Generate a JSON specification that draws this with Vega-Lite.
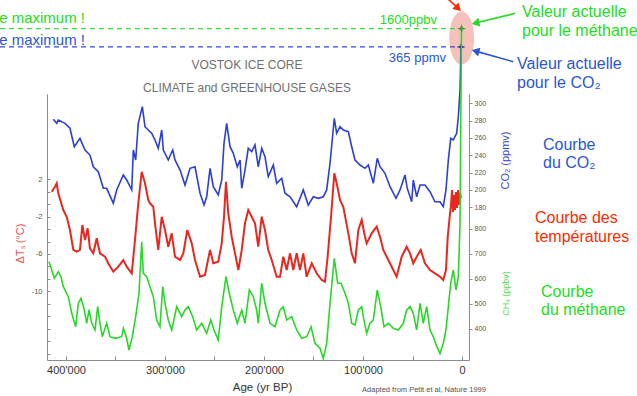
{
  "$schema": "https://vega.github.io/schema/vega-lite/v6.json",
  "width": 422,
  "height": 266,
  "autosize": {"type": "none"},
  "padding": {"left": 47, "top": 94, "right": 168, "bottom": 36},
  "background": "#ffffff",
  "config": {
    "font": "Liberation Sans",
    "view": {"stroke": null},
    "axis": {"grid": false, "domainColor": "#8c8c8c", "tickColor": "#8c8c8c", "labelColor": "#555555", "labelFont": "Liberation Sans", "titleFont": "Liberation Sans", "titleFontWeight": "normal", "labelOverlap": false, "labelFlush": false}
  },
  "datasets": {
    "temperature": [
      {"age": 414400, "temp": 0.67}, {"age": 411100, "temp": 1.21}, {"age": 409400, "temp": 1.57}, {"age": 407800, "temp": 0.5},
      {"age": 402700, "temp": -1.29}, {"age": 399300, "temp": -2.01}, {"age": 396000, "temp": -3.43}, {"age": 392600, "temp": -5.57},
      {"age": 389200, "temp": -5.76}, {"age": 385900, "temp": -5.57}, {"age": 383500, "temp": -2.9}, {"age": 380800, "temp": -4.51},
      {"age": 378100, "temp": -3.25}, {"age": 375800, "temp": -5.39}, {"age": 372400, "temp": -5.93}, {"age": 369000, "temp": -4.32},
      {"age": 365700, "temp": -5.93}, {"age": 360600, "temp": -6.29}, {"age": 357300, "temp": -7.0}, {"age": 352200, "temp": -7.9},
      {"age": 347200, "temp": -7.36}, {"age": 342100, "temp": -6.65}, {"age": 338700, "temp": -7.36}, {"age": 333600, "temp": -8.07},
      {"age": 330300, "temp": -4.5}, {"age": 327000, "temp": -0.57}, {"age": 323500, "temp": 2.81}, {"age": 320200, "temp": 1.57},
      {"age": 316900, "temp": -0.22}, {"age": 315200, "temp": -0.57}, {"age": 311800, "temp": -0.94}, {"age": 310100, "temp": -2.71},
      {"age": 306800, "temp": -5.57}, {"age": 303300, "temp": -2.01}, {"age": 300000, "temp": -3.43}, {"age": 296700, "temp": -5.22},
      {"age": 293200, "temp": -3.79}, {"age": 289900, "temp": -6.29}, {"age": 284800, "temp": -6.65}, {"age": 281500, "temp": -5.93},
      {"age": 277500, "temp": -3.43}, {"age": 273000, "temp": -4.86}, {"age": 269700, "temp": -6.65}, {"age": 264600, "temp": -8.44},
      {"age": 259600, "temp": -8.25}, {"age": 254500, "temp": -5.57}, {"age": 251200, "temp": -7.0}, {"age": 246200, "temp": -6.83},
      {"age": 242700, "temp": -4.86}, {"age": 240400, "temp": -2.01}, {"age": 238400, "temp": 1.74}, {"age": 236100, "temp": -1.64},
      {"age": 232600, "temp": -4.15}, {"age": 229300, "temp": -5.93}, {"age": 225900, "temp": -7.72}, {"age": 222500, "temp": -5.57},
      {"age": 219200, "temp": -2.71}, {"age": 215900, "temp": -1.29}, {"age": 212400, "temp": -2.01}, {"age": 209100, "temp": -2.71},
      {"age": 205800, "temp": -5.22}, {"age": 202300, "temp": -2.01}, {"age": 199000, "temp": -3.43}, {"age": 195700, "temp": -5.57},
      {"age": 192200, "temp": -6.65}, {"age": 187200, "temp": -8.44}, {"age": 183800, "temp": -8.44}, {"age": 180500, "temp": -6.29},
      {"age": 177100, "temp": -7.72}, {"age": 173700, "temp": -5.93}, {"age": 170400, "temp": -7.72}, {"age": 167000, "temp": -5.93},
      {"age": 163600, "temp": -7.72}, {"age": 160300, "temp": -5.93}, {"age": 156900, "temp": -8.44}, {"age": 151800, "temp": -7.0},
      {"age": 146800, "temp": -8.07}, {"age": 141700, "temp": -8.79}, {"age": 138400, "temp": -8.97}, {"age": 135700, "temp": -6.29},
      {"age": 132300, "temp": -2.01}, {"age": 129000, "temp": 2.64}, {"age": 126600, "temp": 1.57}, {"age": 123200, "temp": -0.22},
      {"age": 119900, "temp": -0.94}, {"age": 114800, "temp": -3.79}, {"age": 111400, "temp": -5.93}, {"age": 108100, "temp": -7.0},
      {"age": 104700, "temp": -3.43}, {"age": 101300, "temp": -2.36}, {"age": 98000, "temp": -4.15}, {"age": 96300, "temp": -4.86},
      {"age": 91200, "temp": -3.79}, {"age": 86200, "temp": -3.08}, {"age": 82800, "temp": -4.15}, {"age": 79500, "temp": -5.57},
      {"age": 74400, "temp": -6.65}, {"age": 69400, "temp": -7.72}, {"age": 66000, "temp": -8.44}, {"age": 60900, "temp": -6.29},
      {"age": 55900, "temp": -5.22}, {"age": 52500, "temp": -5.93}, {"age": 49200, "temp": -7.0}, {"age": 45800, "temp": -6.29},
      {"age": 41700, "temp": -5.57}, {"age": 37400, "temp": -7.0}, {"age": 32300, "temp": -7.72}, {"age": 27300, "temp": -8.07},
      {"age": 22200, "temp": -8.44}, {"age": 18900, "temp": -8.79}, {"age": 16200, "temp": -7.72}, {"age": 14400, "temp": -4.15},
      {"age": 12100, "temp": -1.64}, {"age": 11100, "temp": -0.75}, {"age": 10100, "temp": 0.85}, {"age": 9100, "temp": -1.5},
      {"age": 8100, "temp": 0.32}, {"age": 7100, "temp": -1.29}, {"age": 6100, "temp": 0.64}, {"age": 5100, "temp": -1.07},
      {"age": 4000, "temp": 0.85}, {"age": 3000, "temp": -0.75}, {"age": 2000, "temp": 0.53}, {"age": 1000, "temp": 0.0}
    ],
    "co2": [
      {"age": 412800, "co2": 281.5}, {"age": 409400, "co2": 276.9}, {"age": 407800, "co2": 280.7}, {"age": 401000, "co2": 276.9},
      {"age": 396000, "co2": 271.2}, {"age": 391600, "co2": 249.9}, {"age": 385900, "co2": 259.6}, {"age": 380800, "co2": 246.1},
      {"age": 375800, "co2": 240.3}, {"age": 372400, "co2": 226.8}, {"age": 367400, "co2": 221.1}, {"age": 362300, "co2": 201.9},
      {"age": 358900, "co2": 201.9}, {"age": 352200, "co2": 184.6}, {"age": 348800, "co2": 200.0}, {"age": 342100, "co2": 217.3},
      {"age": 338700, "co2": 211.5}, {"age": 333600, "co2": 200.0}, {"age": 332000, "co2": 246.1}, {"age": 329600, "co2": 234.6},
      {"age": 327000, "co2": 276.9}, {"age": 322900, "co2": 296.1}, {"age": 320200, "co2": 273.0}, {"age": 316900, "co2": 269.2},
      {"age": 313400, "co2": 265.4}, {"age": 310100, "co2": 257.7}, {"age": 306800, "co2": 248.1}, {"age": 303300, "co2": 269.2},
      {"age": 301700, "co2": 246.1}, {"age": 296700, "co2": 234.6}, {"age": 292200, "co2": 246.1}, {"age": 289900, "co2": 234.6},
      {"age": 284800, "co2": 223.0}, {"age": 279800, "co2": 205.7}, {"age": 274700, "co2": 225.0}, {"age": 269700, "co2": 226.8},
      {"age": 264600, "co2": 196.2}, {"age": 260600, "co2": 182.6}, {"age": 257900, "co2": 192.2}, {"age": 254500, "co2": 225.0},
      {"age": 251200, "co2": 203.8}, {"age": 246200, "co2": 194.2}, {"age": 242700, "co2": 211.5}, {"age": 240400, "co2": 253.8},
      {"age": 237700, "co2": 276.9}, {"age": 234300, "co2": 249.9}, {"age": 231000, "co2": 242.3}, {"age": 227000, "co2": 226.8},
      {"age": 224200, "co2": 234.6}, {"age": 222500, "co2": 201.9}, {"age": 219200, "co2": 223.0}, {"age": 215900, "co2": 248.1},
      {"age": 212400, "co2": 244.2}, {"age": 209100, "co2": 251.9}, {"age": 205800, "co2": 226.8}, {"age": 202300, "co2": 248.1},
      {"age": 199000, "co2": 238.4}, {"age": 195700, "co2": 215.3}, {"age": 190600, "co2": 228.8}, {"age": 187200, "co2": 207.7},
      {"age": 182100, "co2": 213.5}, {"age": 178800, "co2": 196.2}, {"age": 173700, "co2": 192.2}, {"age": 167000, "co2": 180.7},
      {"age": 160300, "co2": 200.0}, {"age": 155300, "co2": 182.6}, {"age": 150200, "co2": 192.2}, {"age": 145200, "co2": 190.4},
      {"age": 140100, "co2": 192.2}, {"age": 136700, "co2": 200.0}, {"age": 133300, "co2": 230.8}, {"age": 129000, "co2": 282.7},
      {"age": 126600, "co2": 265.4}, {"age": 123200, "co2": 273.0}, {"age": 119900, "co2": 269.2}, {"age": 114800, "co2": 267.2},
      {"age": 111400, "co2": 249.9}, {"age": 108100, "co2": 234.6}, {"age": 103000, "co2": 228.8}, {"age": 98000, "co2": 225.0},
      {"age": 94600, "co2": 228.8}, {"age": 89600, "co2": 207.7}, {"age": 85600, "co2": 236.5}, {"age": 82800, "co2": 226.8},
      {"age": 77800, "co2": 219.2}, {"age": 72700, "co2": 203.8}, {"age": 66700, "co2": 190.4}, {"age": 62600, "co2": 200.0},
      {"age": 57600, "co2": 217.3}, {"age": 55300, "co2": 201.9}, {"age": 50800, "co2": 186.4}, {"age": 49200, "co2": 211.5},
      {"age": 45800, "co2": 192.2}, {"age": 42400, "co2": 205.7}, {"age": 37400, "co2": 205.7}, {"age": 32300, "co2": 198.0},
      {"age": 27300, "co2": 186.4}, {"age": 22200, "co2": 186.4}, {"age": 18900, "co2": 180.7}, {"age": 16200, "co2": 200.0},
      {"age": 13800, "co2": 234.6}, {"age": 11400, "co2": 259.6}, {"age": 8800, "co2": 257.7}, {"age": 5400, "co2": 265.4},
      {"age": 3700, "co2": 284.5}, {"age": 2000, "co2": 315.3}, {"age": 1000, "co2": 365.0}
    ],
    "ch4": [
      {"age": 417200, "ch4": 667.6}, {"age": 414400, "ch4": 634.4}, {"age": 411800, "ch4": 601.2}, {"age": 407800, "ch4": 627.6},
      {"age": 405100, "ch4": 607.6}, {"age": 402700, "ch4": 567.6}, {"age": 397700, "ch4": 527.6}, {"age": 394200, "ch4": 461.2},
      {"age": 390200, "ch4": 407.6}, {"age": 387600, "ch4": 501.2}, {"age": 384800, "ch4": 521.2}, {"age": 381500, "ch4": 474.4},
      {"age": 379100, "ch4": 421.2}, {"age": 376800, "ch4": 474.4}, {"age": 374000, "ch4": 421.2}, {"age": 370700, "ch4": 394.4},
      {"age": 368000, "ch4": 487.6}, {"age": 365700, "ch4": 421.2}, {"age": 363300, "ch4": 367.6}, {"age": 358900, "ch4": 421.2},
      {"age": 355600, "ch4": 367.6}, {"age": 350500, "ch4": 361.2}, {"age": 343700, "ch4": 367.6}, {"age": 342100, "ch4": 401.2},
      {"age": 338700, "ch4": 361.2}, {"age": 336400, "ch4": 314.4}, {"age": 333000, "ch4": 367.6}, {"age": 329600, "ch4": 447.6},
      {"age": 326300, "ch4": 541.2}, {"age": 323500, "ch4": 747.6}, {"age": 321900, "ch4": 621.2}, {"age": 318500, "ch4": 607.6},
      {"age": 315200, "ch4": 567.6}, {"age": 311800, "ch4": 527.6}, {"age": 308400, "ch4": 434.4}, {"age": 305100, "ch4": 407.6},
      {"age": 302300, "ch4": 567.6}, {"age": 300000, "ch4": 501.2}, {"age": 296700, "ch4": 434.4}, {"age": 293200, "ch4": 394.4},
      {"age": 288200, "ch4": 487.6}, {"age": 283100, "ch4": 447.6}, {"age": 279800, "ch4": 474.4}, {"age": 276500, "ch4": 487.6},
      {"age": 272000, "ch4": 447.6}, {"age": 268000, "ch4": 394.4}, {"age": 262900, "ch4": 421.2}, {"age": 257900, "ch4": 381.2},
      {"age": 253800, "ch4": 434.4}, {"age": 250500, "ch4": 394.4}, {"age": 246200, "ch4": 354.4}, {"age": 242700, "ch4": 487.6},
      {"age": 238400, "ch4": 607.6}, {"age": 235100, "ch4": 541.2}, {"age": 231000, "ch4": 474.4}, {"age": 227000, "ch4": 421.2},
      {"age": 222500, "ch4": 474.4}, {"age": 219200, "ch4": 421.2}, {"age": 214800, "ch4": 554.4}, {"age": 210800, "ch4": 527.6},
      {"age": 207400, "ch4": 474.4}, {"age": 205800, "ch4": 421.2}, {"age": 202300, "ch4": 581.2}, {"age": 199000, "ch4": 501.2},
      {"age": 193900, "ch4": 421.2}, {"age": 188900, "ch4": 407.6}, {"age": 183800, "ch4": 474.4}, {"age": 180500, "ch4": 487.6},
      {"age": 177100, "ch4": 434.4}, {"age": 172000, "ch4": 447.6}, {"age": 167000, "ch4": 394.4}, {"age": 161900, "ch4": 361.2},
      {"age": 156900, "ch4": 367.6}, {"age": 152500, "ch4": 407.6}, {"age": 148500, "ch4": 341.2}, {"age": 143400, "ch4": 321.2},
      {"age": 140100, "ch4": 280.0}, {"age": 136700, "ch4": 341.2}, {"age": 133300, "ch4": 501.2}, {"age": 129000, "ch4": 681.2},
      {"age": 125600, "ch4": 581.2}, {"age": 122200, "ch4": 581.2}, {"age": 118200, "ch4": 541.2}, {"age": 114800, "ch4": 501.2},
      {"age": 111400, "ch4": 421.2}, {"age": 108100, "ch4": 414.4}, {"age": 104700, "ch4": 474.4}, {"age": 101300, "ch4": 487.6},
      {"age": 99700, "ch4": 447.6}, {"age": 96300, "ch4": 381.2}, {"age": 92900, "ch4": 421.2}, {"age": 89600, "ch4": 434.4},
      {"age": 85600, "ch4": 554.4}, {"age": 82100, "ch4": 487.6}, {"age": 78800, "ch4": 407.6}, {"age": 74400, "ch4": 421.2},
      {"age": 69400, "ch4": 401.2}, {"age": 64300, "ch4": 394.4}, {"age": 59300, "ch4": 421.2}, {"age": 55900, "ch4": 474.4},
      {"age": 52500, "ch4": 487.6}, {"age": 49200, "ch4": 461.2}, {"age": 45800, "ch4": 394.4}, {"age": 42400, "ch4": 501.2},
      {"age": 39100, "ch4": 421.2}, {"age": 35700, "ch4": 487.6}, {"age": 32300, "ch4": 394.4}, {"age": 29000, "ch4": 367.6},
      {"age": 25600, "ch4": 330.0}, {"age": 22200, "ch4": 300.0}, {"age": 18900, "ch4": 341.2}, {"age": 16200, "ch4": 394.4},
      {"age": 13800, "ch4": 487.6}, {"age": 11400, "ch4": 581.2}, {"age": 8800, "ch4": 634.4}, {"age": 6100, "ch4": 554.4},
      {"age": 3700, "ch4": 607.6}, {"age": 2000, "ch4": 821.2}, {"age": 1000, "ch4": 1354.4}, {"age": 500, "ch4": 1600.0}
    ]
  },
  "encoding": {
    "x": {
      "field": "age", "type": "quantitative",
      "scale": {"domain": [-7070, 419190], "reverse": true, "nice": false, "zero": false},
      "axis": {
        "orient": "bottom",
        "values": [0, 50000, 100000, 150000, 200000, 250000, 300000, 350000, 400000],
        "labelExpr": "datum.value % 100000 == 0 ? replace(format(datum.value, ','), ',', \"'\") : ''",
        "tickSize": -4, "labelPadding": 8, "labelFontSize": 11, "labelColor": "#333333",
        "title": "Age (yr BP)", "titleFontSize": 11.5, "titleColor": "#333333",
        "titleX": 215, "titleY": 27, "titleBaseline": "middle", "titleAlign": "center"
      }
    }
  },
  "layer": [
    {
      "encoding": {
        "y": {
          "field": "temp", "type": "quantitative",
          "scale": {"domain": [-17.36, 11.14], "nice": false, "zero": false},
          "axis": {
            "orient": "left",
            "values": [2, 0.6667, -0.6667, -2, -3.3333, -4.6667, -6, -7.3333, -8.6667, -10, -11.3333, -12.6667, -14, -15.3333, -16.6667],
            "labelExpr": "(datum.value == 2 || datum.value == -2 || datum.value == -6 || datum.value == -10) ? '' + datum.value : ''",
            "tickSize": -3, "labelPadding": 8, "labelFontSize": 7.5,
            "title": "ΔTₛ (°C)", "titleColor": "#f05050", "titleFontSize": 11, "titleAngle": 270,
            "titleX": -27, "titleY": 149, "titleBaseline": "middle", "titleAlign": "center"
          }
        }
      },
      "layer": [
        {"data": {"name": "temperature"}, "mark": {"type": "line", "color": "#e8271f", "strokeWidth": 2}, "encoding": {}}
      ]
    },
    {
      "encoding": {
        "y": {
          "field": "co2", "type": "quantitative",
          "scale": {"domain": [3.82, 310.73], "nice": false, "zero": false},
          "axis": {
            "orient": "right",
            "values": [180, 200, 220, 240, 260, 280, 300],
            "tickSize": 3, "labelPadding": 2, "labelFontSize": 7,
            "title": "CO₂ (ppmv)", "titleColor": "#3344cc", "titleFontSize": 11, "titleAngle": 270,
            "titleX": 36, "titleY": 66, "titleBaseline": "middle", "titleAlign": "center"
          }
        }
      },
      "layer": [
        {
          "data": {"values": [{"age": 300, "co2": 375.3}]},
          "mark": {"type": "point", "shape": "M0,-1C0.26,-1 0.47,-0.55 0.47,0C0.47,0.55 0.26,1 0,1C-0.26,1 -0.47,0.55 -0.47,0C-0.47,-0.55 -0.26,-1 0,-1Z", "size": 2809, "filled": true, "color": "#f5c2bb", "opacity": 1, "strokeWidth": 0},
          "encoding": {}
        },
        {
          "data": {"values": [{"age": 466700, "age_end": 1000, "co2": 365}]},
          "mark": {"type": "rule", "color": "#3446e0", "strokeDash": [5, 4], "strokeWidth": 1.2},
          "encoding": {"x2": {"field": "age_end"}}
        },
        {"data": {"name": "co2"}, "mark": {"type": "line", "color": "#2b3ed6", "strokeWidth": 1.6}, "encoding": {}},
        {
          "data": {"values": [{"age": 1000, "co2": 365}]},
          "mark": {"type": "point", "shape": "M0,-1L0.25,-0.25L1,0L0.25,0.25L0,1L-0.25,0.25L-1,0L-0.25,-0.25Z", "size": 81, "filled": true, "color": "#3a2a90", "opacity": 1},
          "encoding": {}
        },
        {
          "data": {"values": [
            {"age": -60600, "co2": 399.0, "text": "Valeur actuelle", "kind": "CH4"},
            {"age": -60600, "co2": 378.2, "text": "pour le méthane", "kind": "CH4"},
            {"age": -55600, "co2": 339.6, "text": "Valeur actuelle", "kind": "CO2"},
            {"age": -55600, "co2": 317.7, "text": "pour le CO₂", "kind": "CO2"},
            {"age": -81800, "co2": 246.1, "text": "Courbe", "kind": "CO2"},
            {"age": -81800, "co2": 225.4, "text": "du CO₂", "kind": "CO2"},
            {"age": -73700, "co2": 161.5, "text": "Courbe des", "kind": "Temp"},
            {"age": -73700, "co2": 140.3, "text": "températures", "kind": "Temp"},
            {"age": -79800, "co2": 76.2, "text": "Courbe", "kind": "CH4"},
            {"age": -79800, "co2": 55.7, "text": "du méthane", "kind": "CH4"}
          ]},
          "mark": {"type": "text", "align": "left", "baseline": "alphabetic", "fontSize": 16},
          "encoding": {
            "text": {"field": "text"},
            "color": {"field": "kind", "type": "nominal", "scale": {"domain": ["CO2", "Temp", "CH4", "Titre", "Source"], "range": ["#2a56d6", "#ff2a00", "#22dd22", "#707070", "#505050"]}, "legend": null}
          }
        },
        {
          "data": {"values": [
            {"age": 380800, "co2": 393.2, "text": "e maximum !", "kind": "CH4"},
            {"age": 380800, "co2": 367.3, "text": "e maximum !", "kind": "CO2"}
          ]},
          "mark": {"type": "text", "align": "right", "baseline": "alphabetic", "fontSize": 15},
          "encoding": {
            "text": {"field": "text"},
            "color": {"field": "kind", "type": "nominal", "scale": {"domain": ["CO2", "Temp", "CH4", "Titre", "Source"], "range": ["#2a56d6", "#ff2a00", "#22dd22", "#707070", "#505050"]}, "legend": null}
          }
        },
        {
          "data": {"values": [
            {"age": 25300, "co2": 391.5, "text": "1600ppbv", "kind": "CH4"},
            {"age": 16200, "co2": 347.7, "text": "365 ppmv", "kind": "CO2"}
          ]},
          "mark": {"type": "text", "align": "right", "baseline": "alphabetic", "fontSize": 13},
          "encoding": {
            "text": {"field": "text"},
            "color": {"field": "kind", "type": "nominal", "scale": {"domain": ["CO2", "Temp", "CH4", "Titre", "Source"], "range": ["#2a56d6", "#ff2a00", "#22dd22", "#707070", "#505050"]}, "legend": null}
          }
        },
        {
          "data": {"values": [
            {"age": 217200, "co2": 339.2, "text": "VOSTOK ICE CORE", "kind": "Titre"},
            {"age": 217200, "co2": 313.4, "text": "CLIMATE and GREENHOUSE GASES", "kind": "Titre"}
          ]},
          "mark": {"type": "text", "align": "center", "baseline": "alphabetic", "fontSize": 12},
          "encoding": {
            "text": {"field": "text"},
            "color": {"field": "kind", "type": "nominal", "scale": {"domain": ["CO2", "Temp", "CH4", "Titre", "Source"], "range": ["#2a56d6", "#ff2a00", "#22dd22", "#707070", "#505050"]}, "legend": null}
          }
        },
        {
          "data": {"values": [
            {"age": 38400, "co2": -33.1, "text": "Adapted from Petit et al, Nature 1999", "kind": "Source"}
          ]},
          "mark": {"type": "text", "align": "center", "baseline": "alphabetic", "fontSize": 7.5},
          "encoding": {
            "text": {"field": "text"},
            "color": {"field": "kind", "type": "nominal", "scale": {"domain": ["CO2", "Temp", "CH4", "Titre", "Source"], "range": ["#2a56d6", "#ff2a00", "#22dd22", "#707070", "#505050"]}, "legend": null}
          }
        },
        {
          "data": {"values": [
            {"age": 15200, "co2": 421.5, "age_end": 3900, "co2_end": 409.6, "kind": "Temp"},
            {"age": -53500, "co2": 403.8, "age_end": -13700, "co2_end": 392.6, "kind": "CH4"},
            {"age": -51800, "co2": 348.0, "age_end": -13700, "co2_end": 360.2, "kind": "CO2"}
          ]},
          "mark": {"type": "rule", "strokeWidth": 1.6},
          "encoding": {
            "x2": {"field": "age_end"},
            "y2": {"field": "co2_end"},
            "color": {"field": "kind", "type": "nominal", "scale": {"domain": ["CO2", "Temp", "CH4", "Titre", "Source"], "range": ["#2a56d6", "#ff2a00", "#22dd22", "#707070", "#505050"]}, "legend": null}
          }
        },
        {
          "data": {"values": [{"age": 3900, "co2": 409.6}]},
          "mark": {"type": "point", "shape": "triangle-up", "size": 80, "filled": true, "color": "#ff2a00", "opacity": 1, "angle": 132.9},
          "encoding": {}
        },
        {
          "data": {"values": [{"age": -13700, "co2": 392.6}]},
          "mark": {"type": "point", "shape": "triangle-up", "size": 80, "filled": true, "color": "#22dd22", "opacity": 1, "angle": 256.1},
          "encoding": {}
        },
        {
          "data": {"values": [{"age": -13700, "co2": 360.2}]},
          "mark": {"type": "point", "shape": "triangle-up", "size": 80, "filled": true, "color": "#2a56d6", "opacity": 1, "angle": 285.7},
          "encoding": {}
        }
      ]
    },
    {
      "encoding": {
        "y": {
          "field": "ch4", "type": "quantitative",
          "scale": {"domain": [274.4, 1338.4], "nice": false, "zero": false},
          "axis": {
            "orient": "right",
            "values": [400, 500, 600, 700, 800],
            "tickSize": 3, "labelPadding": 2, "labelFontSize": 7,
            "title": "CH₄ (ppbv)", "titleColor": "#55d855", "titleFontSize": 9, "titleAngle": 270,
            "titleX": 36, "titleY": 199, "titleBaseline": "middle", "titleAlign": "center"
          }
        }
      },
      "layer": [
        {
          "data": {"values": [{"age": 466700, "age_end": 500, "ch4": 1600}]},
          "mark": {"type": "rule", "color": "#3fdc3f", "strokeDash": [5, 4], "strokeWidth": 1.2},
          "encoding": {"x2": {"field": "age_end"}}
        },
        {"data": {"name": "ch4"}, "mark": {"type": "line", "color": "#27d827", "strokeWidth": 1.6}, "encoding": {}},
        {
          "data": {"values": [{"age": 500, "ch4": 1600}]},
          "mark": {"type": "point", "shape": "M0,-1L0.25,-0.25L1,0L0.25,0.25L0,1L-0.25,0.25L-1,0L-0.25,-0.25Z", "size": 81, "filled": true, "color": "#3d9a3d", "opacity": 1},
          "encoding": {}
        }
      ]
    }
  ],
  "resolve": {"scale": {"y": "independent"}, "axis": {"y": "independent"}}
}
